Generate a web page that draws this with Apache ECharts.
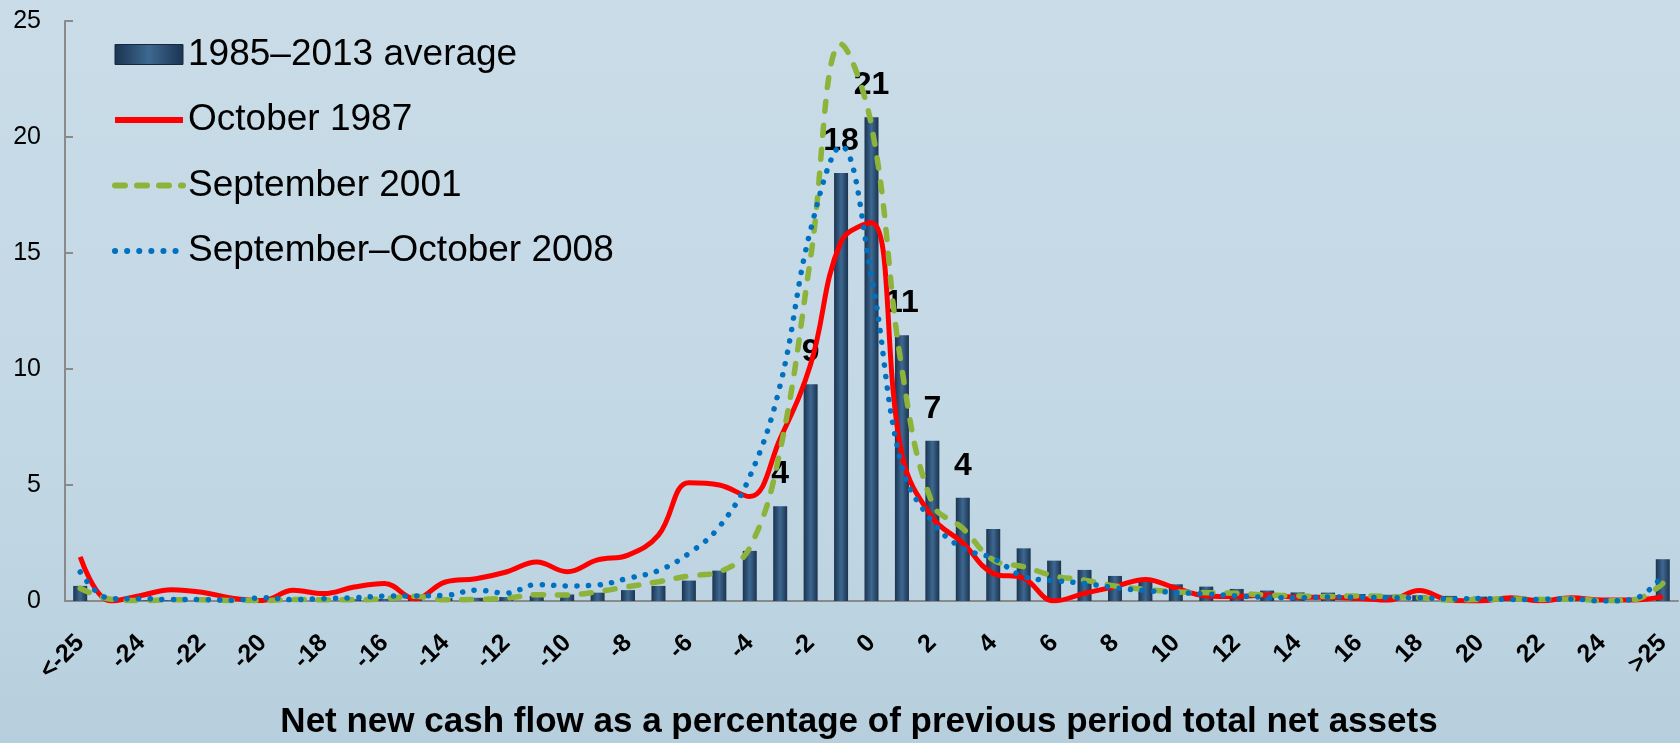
<!DOCTYPE html>
<html><head><meta charset="utf-8">
<script src="https://cdn.jsdelivr.net/npm/echarts@6/dist/echarts.min.js"></script>
<style>html,body{margin:0;padding:0;background:#c4d9e6;} #c{width:1680px;height:743px;}</style>
</head><body><div id="c"></div>
<script>
const categories = ['<-25','-25','-24','-23','-22','-21','-20','-19','-18','-17','-16','-15','-14','-13','-12','-11','-10','-9','-8','-7','-6','-5','-4','-3','-2','-1','0','1','2','3','4','5','6','7','8','9','10','11','12','13','14','15','16','17','18','19','20','21','22','23','24','25','>25'];
const average = [0.65, 0.04,0.03,0.03,0.04,0.04,0.05,0.06,0.07,0.08,0.09,0.10,0.12,0.14,0.17,0.22,0.28,0.36,0.47,0.65,0.88,1.31,2.16,4.08,9.34,18.45,20.85,11.45,6.91,4.45,3.10,2.27,1.74,1.34,1.08,0.83,0.72,0.62,0.52,0.45,0.37,0.36,0.30,0.27,0.25,0.22,0.19,0.17,0.16,0.14,0.13,0.11, 1.80];
const oct1987 = [1.9, 0.0,0.24,0.49,0.38,0.12,0.02,0.46,0.32,0.60,0.75,0.10,0.82,0.96,1.25,1.68,1.26,1.77,1.98,2.84,5.10,5.00,4.50,7.00,10.2,15.5,16.3,6.3,3.6,2.5,1.19,0.98,0.0,0.33,0.62,0.93,0.55,0.22,0.19,0.26,0.16,0.16,0.11,0.04,0.45,0.04,0.0,0.14,0.01,0.14,0.04,0.04, 0.19];
const sep2001 = [0.55, 0.08,0.02,0.05,0.05,0.02,0.02,0.07,0.05,0.05,0.10,0.20,0.05,0.07,0.12,0.27,0.26,0.40,0.62,0.83,1.08,1.26,2.30,6.5,14.8,24.0,20.5,10.0,4.2,3.13,1.77,1.48,1.08,0.90,0.65,0.50,0.40,0.36,0.33,0.26,0.22,0.19,0.22,0.19,0.14,0.04,0.07,0.09,0.07,0.09,0.01,0.04, 0.76];
const sepOct2008 = [1.25, 0.10,0.10,0.06,0.06,0.03,0.14,0.06,0.10,0.14,0.21,0.22,0.24,0.47,0.34,0.71,0.65,0.69,0.98,1.31,2.05,3.20,5.36,9.3,16.0,19.6,14.0,5.8,3.42,2.27,1.84,1.05,0.88,0.76,0.57,0.45,0.37,0.30,0.22,0.16,0.14,0.17,0.16,0.14,0.14,0.09,0.11,0.07,0.07,0.09,0.0,0.07, 1.10];
const labeledCategories = ['-3','-2','-1','0','1','2','3'];
const seriesNames = ['1985–2013 average','October 1987','September 2001','September–October 2008'];
const xAxisTitle = 'Net new cash flow as a percentage of previous period total net assets';

const chart = echarts.init(document.getElementById('c'), null, {renderer:'canvas'});
const barColor = new echarts.graphic.LinearGradient(0,0,1,0,[
  {offset:0,color:'#1b3350'},{offset:0.5,color:'#3d6890'},{offset:1,color:'#1b3350'}]);
const FONT = '"Liberation Sans", Arial, sans-serif';
const RED = '#ff0000', GREEN = '#8db33a', BLUE = '#0070c0';
const option = {
  animation:false,
  backgroundColor: new echarts.graphic.LinearGradient(0,0,0,1,[
    {offset:0,color:'#c9dce8'},{offset:0.6,color:'#c3d8e5'},{offset:1,color:'#b7cfdd'}]),
  grid:{left:65,right:2,top:21,bottom:142},
  legend:{orient:'vertical', left:107, top:31, itemWidth:68, itemHeight:20, itemGap:28.5,
    textStyle:{fontSize:37, fontFamily:FONT, color:'#000'},
    data:[
      {name:seriesNames[0], icon:'rect', itemStyle:{borderColor:'#16293d', borderWidth:1}},
      {name:seriesNames[1], itemStyle:{opacity:0}, lineStyle:{width:6, color:RED}},
      {name:seriesNames[2], itemStyle:{opacity:0}, lineStyle:{width:6, color:GREEN, type:[10,12], cap:'round'}},
      {name:seriesNames[3], itemStyle:{opacity:0}, lineStyle:{width:6, color:BLUE, type:[0.1,12], cap:'round'}}
    ]},
  xAxis:{type:'category', data:categories, boundaryGap:true,
    axisLine:{lineStyle:{color:'#8a8a8a', width:2}}, axisTick:{show:false},
    axisLabel:{interval:1, rotate:45, fontSize:25, fontWeight:'bold', color:'#000', fontFamily:FONT, margin:38}},
  yAxis:{type:'value', min:0, max:25, interval:5, splitLine:{show:false},
    axisLine:{show:true, lineStyle:{color:'#8a8a8a', width:2}},
    axisTick:{show:true, inside:true, length:8, lineStyle:{color:'#8a8a8a', width:2}},
    axisLabel:{fontSize:25, color:'#000', margin:24, fontFamily:FONT}},
  graphic:[{type:'text', x:859, y:722, style:{text:xAxisTitle, fontSize:35, fontWeight:'bold', fontFamily:FONT,
    fill:'#000', align:'center', verticalAlign:'middle'}}],
  series:[
    {name:seriesNames[0], type:'bar', data:average, barWidth:14, itemStyle:{color:barColor},
      label:{show:true, position:'top', distance:16, fontSize:32, fontWeight:'bold', fontFamily:FONT, color:'#000',
        formatter:p => labeledCategories.includes(p.name) ? String(Math.round(p.value)) : ''}},
    {name:seriesNames[1], type:'line', data:oct1987, smooth:0.4, symbol:'none',
      lineStyle:{color:RED, width:5}, itemStyle:{color:RED}},
    {name:seriesNames[2], type:'line', data:sep2001, smooth:0.4, symbol:'none',
      lineStyle:{color:GREEN, width:5.5, type:[10,14], cap:'round'}, itemStyle:{color:GREEN}},
    {name:seriesNames[3], type:'line', data:sepOct2008, smooth:0.4, symbol:'none',
      lineStyle:{color:BLUE, width:5.5, type:[0.1,11.5], cap:'round'}, itemStyle:{color:BLUE}}
  ]
};
chart.setOption(option);
</script></body></html>
